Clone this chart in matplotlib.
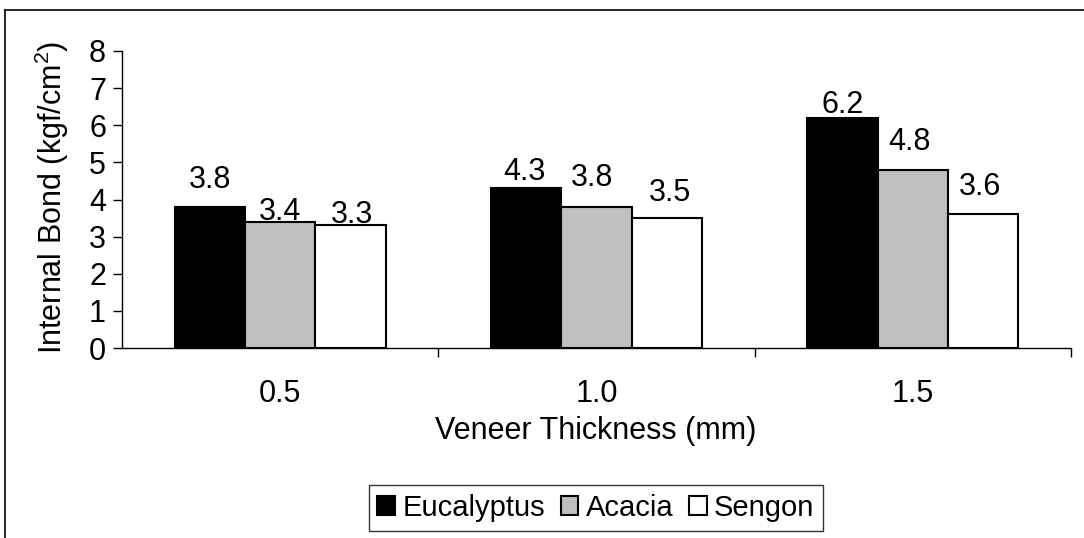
import matplotlib
matplotlib.use("Agg")
import matplotlib.pyplot as plt
from matplotlib.lines import Line2D
import numpy as np

plt.rcParams['font.family'] = ['Liberation Sans', 'DejaVu Sans']
plt.rcParams['mathtext.fontset'] = 'custom'
plt.rcParams['mathtext.rm'] = 'Liberation Sans'
plt.rcParams['mathtext.it'] = 'Liberation Sans:italic'

# ---- data ----
categories = ["0.5", "1.0", "1.5"]
series_names = ["Eucalyptus", "Acacia", "Sengon"]
eucalyptus = [3.8, 4.3, 6.2]
acacia = [3.4, 3.8, 4.8]
sengon = [3.3, 3.5, 3.6]
y_ticks = [0, 1, 2, 3, 4, 5, 6, 7, 8]

# label offsets (pixels) relative to the top-centre of each bar
label_offsets = {
    "Eucalyptus": [(0, 27), (-2, 16), (0, 13)],
    "Acacia": [(0, 10), (-4, 29), (-3, 28)],
    "Sengon": [(2, 10), (3, 25), (-3, 27)],
}

colors = ["#000000", "#C0C0C0", "#FFFFFF"]
FS = 22

W, H = 1084, 538
fig = plt.figure(figsize=(W / 100, H / 100), dpi=100)
ax = fig.add_axes([122 / W, 1 - 348 / H, (1071 - 122) / W, (348 - 51) / H])

x = np.arange(len(categories))
bw = 1 / 4.5
all_series = [eucalyptus, acacia, sengon]
handles = []
for i, (name, vals, col) in enumerate(zip(series_names, all_series, colors)):
    pos = x + (i - 1) * bw
    bars = ax.bar(pos, vals, width=bw, color=col, edgecolor="black", linewidth=1.5, label=name)
    handles.append(bars)
    for p, v, off in zip(pos, vals, label_offsets[name]):
        ax.annotate(f"{v:.1f}", xy=(p, v), xytext=off, textcoords="offset pixels",
                    ha="center", va="center", fontsize=FS)

ax.set_xlim(-0.5, len(categories) - 0.5)
ax.set_ylim(0, 8)
ax.set_yticks(y_ticks)
ax.set_yticklabels([str(t) for t in y_ticks], fontsize=FS)
ax.tick_params(axis="y", direction="out", length=6.5, width=1, pad=5)

ax.set_xticks(x)
ax.set_xticklabels(categories, fontsize=FS)
ax.set_xticks([0.5, 1.5, 2.5], minor=True)
ax.tick_params(axis="x", which="major", length=0, pad=22)
ax.tick_params(axis="x", which="minor", direction="out", length=6.5, width=1)

for s in ["top", "right"]:
    ax.spines[s].set_visible(False)
for s in ["left", "bottom"]:
    ax.spines[s].set_linewidth(1)
    ax.spines[s].set_color("black")

fig.text(52 / W, 1 - 197 / H, "Internal Bond (kgf/cm$^2$)", rotation=90,
         ha="center", va="center", fontsize=FS)
fig.text(596 / W, 1 - 431 / H, "Veneer Thickness (mm)", ha="center", va="center", fontsize=FS)

leg = fig.legend(handles=handles, labels=series_names, loc="center",
                 bbox_to_anchor=(596 / W, 1 - 508 / H), ncol=3, fontsize=21,
                 frameon=True, fancybox=False, handlelength=0.6, handleheight=0.6,
                 handletextpad=0.25, columnspacing=0.55, borderpad=0.3)
leg.get_frame().set_edgecolor("black")
leg.get_frame().set_linewidth(1)

# outer chart border (left and top visible)
fig.add_artist(Line2D([5 / W, 5 / W], [0, 1 - 10 / H], color="black", lw=1.2))
fig.add_artist(Line2D([5 / W, 1], [1 - 10 / H, 1 - 10 / H], color="black", lw=1.2))

fig.savefig("out.png", dpi=100)
